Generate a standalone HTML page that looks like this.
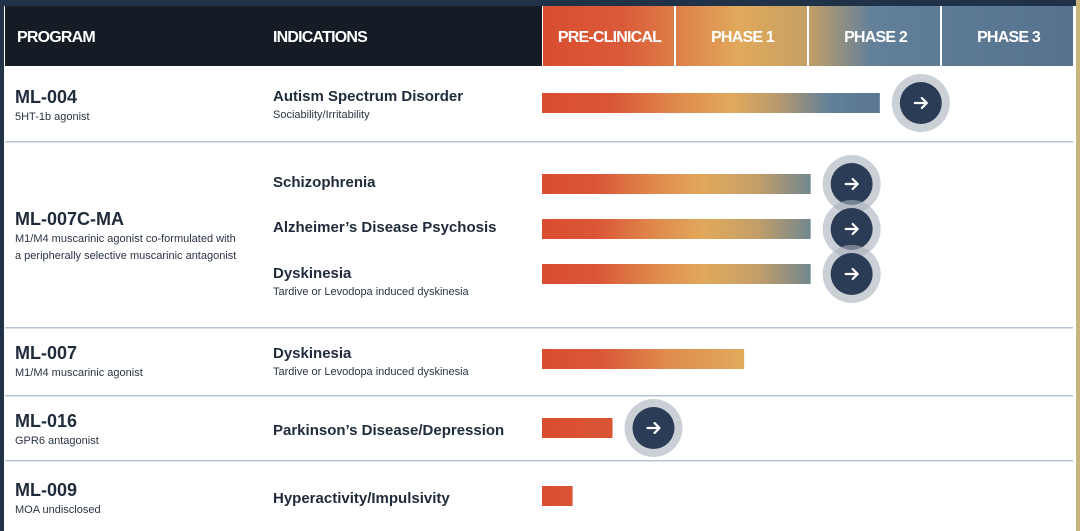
<!DOCTYPE html>
<html><head><meta charset="utf-8"><style>
html,body{margin:0;padding:0;background:#fff;width:1080px;height:531px;overflow:hidden}
svg{display:block;font-family:"Liberation Sans",sans-serif}
</style></head><body>
<svg id="c" width="1080" height="531" viewBox="0 0 1080 531">
<defs id="defs">
<linearGradient id="g" gradientUnits="userSpaceOnUse" x1="542" y1="0" x2="1073" y2="0">
<stop offset="0" stop-color="#d94d31"/><stop offset="0.15" stop-color="#da5a38"/>
<stop offset="0.37" stop-color="#e1a95b"/><stop offset="0.5" stop-color="#c5a065"/>
<stop offset="0.62" stop-color="#62809a"/><stop offset="1" stop-color="#56728e"/>
</linearGradient>
</defs>
<rect x="0" y="0" width="1080" height="531" fill="#fff"/>
<rect x="0" y="0" width="1080" height="6" fill="#1f3247"/>
<rect x="0" y="0" width="4" height="531" fill="#1f3247"/>
<rect x="1076" y="0" width="4" height="531" fill="#c9b479"/>
<rect x="5" y="6" width="537" height="60" fill="#161c26"/>
<g id="phases"></g>
<text x="17" y="42" fill="#fff" font-size="16" font-weight="bold" letter-spacing="-0.8">PROGRAM</text>
<text x="273" y="42" fill="#fff" font-size="16" font-weight="bold" letter-spacing="-0.8">INDICATIONS</text>
<g id="seps"></g>
<g id="labels" fill="#1f2a3a"></g>
<g id="bars"></g>
</svg>
<script>
const phaseNames = ["PRE-CLINICAL","PHASE 1","PHASE 2","PHASE 3"];
const programs = ["ML-004","ML-007C-MA","ML-007","ML-016","ML-009"];
const indications = ["Autism Spectrum Disorder","Schizophrenia","Alzheimer\u2019s Disease Psychosis","Dyskinesia","Dyskinesia","Parkinson\u2019s Disease/Depression","Hyperactivity/Impulsivity"];
const progress = [2.54, 2.02, 2.02, 2.02, 1.52, 0.53, 0.23];
const hasArrow = [true, true, true, true, false, true, false];
const NS="http://www.w3.org/2000/svg";
const x0=542, colW=133;
const xScale=v=>x0+v*colW;
function mk(tag,attrs,parent,txt){const e=document.createElementNS(NS,tag);for(const k in attrs)e.setAttribute(k,attrs[k]);if(txt!==undefined)e.textContent=txt;parent.appendChild(e);return e;}
const ph=document.getElementById('phases');
phaseNames.forEach((n,i)=>{
  const r=mk('rect',{x:xScale(i)+1,y:6,width:colW-2,height:60,fill:'url(#g)'},ph);
  
  
  const t=mk('text',{x:xScale(i+0.5)+1,y:42,'text-anchor':'middle',fill:'#fff','font-size':16,'font-weight':'bold','letter-spacing':'-0.8'},ph,n);
  
  
});
const sp=document.getElementById('seps');
[141,327,395,460].forEach(y=>{const l=mk('rect',{x:5,y:y,width:1068,height:1.5,fill:'#b8c3d3'},sp);
  
  });
const lb=document.getElementById('labels');
const progY=[[103,120],[225,242],[359,376],[427,444],[496,513]];
const progSub=["5HT-1b agonist","M1/M4 muscarinic agonist co-formulated with\na peripherally selective muscarinic antagonist","M1/M4 muscarinic agonist","GPR6 antagonist","MOA undisclosed"];
programs.forEach((p,i)=>{
  const t=mk('text',{x:15,y:progY[i][0],'font-size':18,'font-weight':'bold',fill:'#1f2a3a'},lb,p);
  
  
  progSub[i].split('\n').forEach((s,j)=>{const u=mk('text',{x:15,y:progY[i][1]+j*17,'font-size':11,fill:'#2a3442'},lb,s);
    
    });
});
const rowY=[103,182,227,280,360,430,498];
const indSub=["Sociability/Irritability","","","Tardive or Levodopa induced dyskinesia","Tardive or Levodopa induced dyskinesia","",""];
const barY=[93,174,219,264,349,418,486];
indications.forEach((n,i)=>{
  const ty = indSub[i]? rowY[i]-2 : rowY[i]+5;
  const t=mk('text',{x:273,y:ty,'font-size':15,'font-weight':'bold',fill:'#1f2a3a'},lb,n);
  
  
  if(indSub[i]){const u=mk('text',{x:273,y:ty+17,'font-size':11,fill:'#2a3442'},lb,indSub[i]);
    
    }
});
const defs=document.getElementById('defs');
const bg=document.getElementById('bars');
progress.forEach((v,i)=>{
  const xe=xScale(v), len=xe-x0;
  const gid='bg'+i;
  const lg=mk('linearGradient',{id:gid,gradientUnits:'userSpaceOnUse',x1:x0,y1:0,x2:xe,y2:0},defs);
  let stops;
  if(v>=2.3) stops=[[0,'#d94d31'],[0.2,'#da5536'],[0.4,'#df8a4c'],[0.56,'#e1a95b'],[0.7,'#b79a6e'],[0.85,'#62809a'],[1,'#5a7690']];
  else if(v>=1.8) stops=[[0,'#d94d31'],[0.2,'#da5536'],[0.42,'#df8a4c'],[0.6,'#e1a95b'],[0.8,'#c49e68'],[1,'#72878f']];
  else if(v>=1) stops=[[0,'#d94d31'],[0.3,'#da5838'],[0.6,'#df8a4c'],[1,'#e0aa5b']];
  else stops=[[0,'#d94d31'],[1,'#db5436']];
  stops.forEach(s=>mk('stop',{offset:s[0],'stop-color':s[1]},lg));
  const r=mk('rect',{x:x0,y:barY[i],width:len,height:20,fill:'url(#'+gid+')'},bg);
  
  
});
progress.forEach((v,i)=>{
  if(!hasArrow[i])return;
  const cx=xScale(v)+41, cy=barY[i]+10;
  const g=mk('g',{},bg);
  
  
  mk('circle',{cx:cx,cy:cy,r:29,fill:'#a9b0bd','fill-opacity':0.6},g);
  mk('circle',{cx:cx,cy:cy,r:21,fill:'#2b3c56'},g);
  mk('path',{d:`M${cx-6} ${cy}H${cx+6}M${cx+1} ${cy-5}L${cx+6} ${cy}L${cx+1} ${cy+5}`,stroke:'#fff','stroke-width':2.2,fill:'none','stroke-linecap':'round','stroke-linejoin':'round'},g);
});
</script>
</body></html>
